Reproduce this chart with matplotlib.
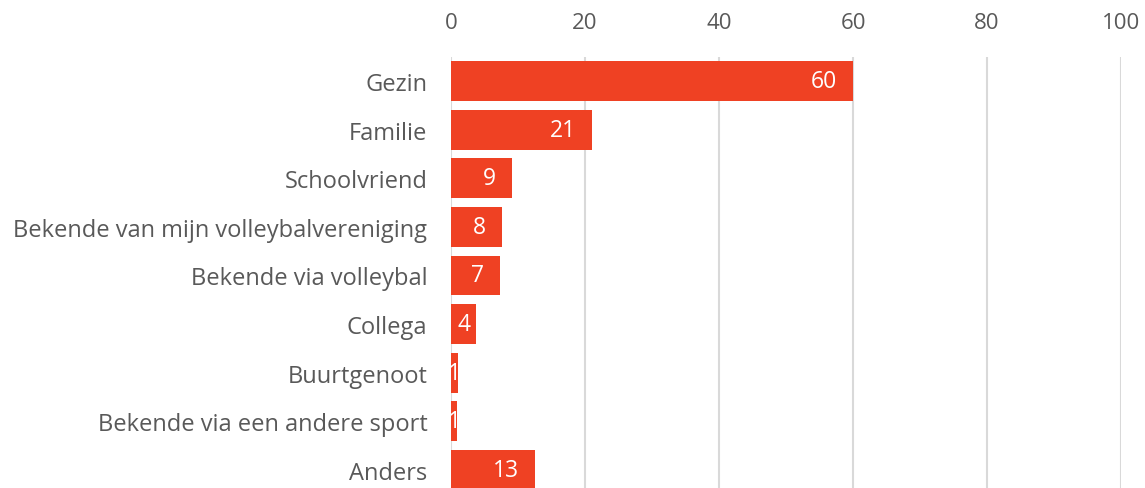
import matplotlib.pyplot as plt

# categorieen en percentages
categories = ['Gezin', 'Familie', 'Schoolvriend',
              'Bekende van mijn volleybalvereniging', 'Bekende via volleybal',
              'Collega', 'Buurtgenoot', 'Bekende via een andere sport', 'Anders']
values = [60.0, 21.1, 9.1, 7.6, 7.3, 3.8, 1.1, 0.9, 12.6]
xticks = [0, 20, 40, 60, 80, 100]

plt.rcParams['font.family'] = ['Open Sans', 'DejaVu Sans']
bar_color = '#EF4123'
text_gray = '#595959'

fig = plt.figure(figsize=(11.45, 4.89), dpi=100)
ax = fig.add_axes([451 / 1145, -0.0129, (1121 - 451) / 1145, 0.895])

pos = list(range(len(categories)))
ax.barh(pos, values, height=0.82, color=bar_color, zorder=3)
ax.set_ylim(len(categories) - 0.5, -0.5)
ax.set_xlim(0, 100)

# waarden in de balken
for p, v in zip(pos, values):
    label = f'{v:.0f}'
    if v < 5:
        ax.text(v / 2, p, label, ha='center', va='center',
                color='white', fontsize=16.5, zorder=4)
    else:
        ax.annotate(label, (v, p), xytext=(-11.5, 0), textcoords='offset points',
                    ha='right', va='center', color='white', fontsize=16.5, zorder=4)

ax.set_yticks(pos)
ax.set_yticklabels(categories, fontsize=17, color=text_gray)
ax.set_xticks(xticks)
ax.set_xticklabels([str(t) for t in xticks], fontsize=16, color=text_gray)
ax.xaxis.tick_top()
ax.tick_params(axis='x', length=0, pad=17)
ax.tick_params(axis='y', length=0, pad=17)

ax.grid(axis='x', color='#D9D9D9', linewidth=1.5, zorder=0)
for s in ax.spines.values():
    s.set_visible(False)

fig.savefig('out.png', dpi=100)
